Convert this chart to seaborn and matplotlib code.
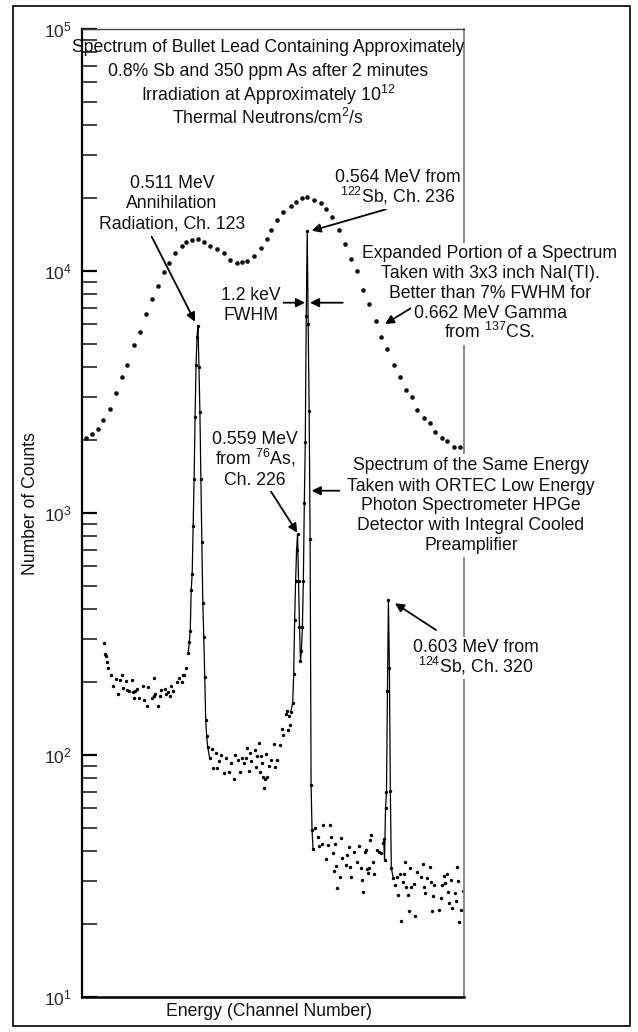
import numpy as np
import pandas as pd
import matplotlib
matplotlib.use("Agg")
import matplotlib.pyplot as plt
import seaborn as sns
from matplotlib.patches import Rectangle
from matplotlib.ticker import LogLocator, NullFormatter, LogFormatterSciNotation

# ---------------- data ----------------
# NaI(Tl) spectrum (large dots)
nai_channel = [7, 13, 20, 25, 32, 38, 44, 50, 57, 63, 69, 75, 82, 88, 93, 99, 106, 111, 117, 123,
               129, 135, 143, 150, 156, 163, 169, 174, 181, 188, 194, 199, 205, 211, 219, 224, 231,
               236, 243, 250, 255, 262, 269, 275, 281, 287, 294, 300, 307, 312, 319, 326, 332, 338,
               344, 350, 357, 363, 368, 375, 381, 388, 394]
nai_counts = [2042, 2120, 2224, 2423, 2690, 3133, 3648, 4090, 4944, 5597, 6640, 7660, 8670, 9910,
              10790, 11870, 12690, 13180, 13430, 13550, 13180, 12690, 12330, 11870, 11100, 10790,
              10890, 10990, 11530, 12450, 13550, 14770, 16250, 17530, 18560, 19280, 20030, 20230,
              19650, 19100, 18040, 16710, 14770, 12940, 11210, 10000, 8340, 7310, 6210, 5335, 4760,
              4090, 3648, 3223, 3014, 2666, 2470, 2355, 2162, 2042, 1986, 1874, 1874]

# HPGe spectrum (small dots), background region 1
hp1_channel = [26, 27, 28, 29, 30, 33, 35, 38, 40, 42, 44, 45, 49, 50, 52, 55, 56, 57, 58, 60,
               62, 66, 67, 70, 71, 75, 77, 78, 79, 82, 84, 85, 89, 90, 92, 94, 95, 97, 101, 103,
               106, 107, 109, 111, 113, 114, 115]
hp1_counts = [290, 261, 255, 241, 228, 214, 193, 205, 179, 204, 214, 189, 201, 185, 184, 204, 181,
              171, 183, 187, 171, 193, 168, 159, 190, 172, 175, 207, 178, 159, 175, 185, 186, 179,
              181, 175, 193, 183, 199, 207, 199, 213, 214, 229, 264, 292, 325]
# 0.511 MeV peak
pk1_channel = [116, 117, 118, 119, 120, 121, 122, 123, 124, 125, 126, 127, 128, 129, 130, 131, 132, 133]
pk1_counts = [481, 560, 884, 1381, 2493, 4090, 5300, 5930, 4000, 2597, 1381, 754, 425, 305, 209, 139, 119, 108]
# background region 2
hp2_channel = [135, 138, 139, 142, 143, 145, 147, 150, 152, 155, 157, 160, 161, 164, 166, 169, 171,
               173, 174, 176, 177, 178, 182, 183, 184, 186, 187, 188, 189, 190, 191, 192, 193, 194,
               196, 199, 202, 203, 205, 208, 210, 211, 214, 215, 216, 217, 218, 219, 221]
hp2_counts = [97, 106, 88, 102, 88, 94, 100, 84, 97, 85, 92, 79, 100, 95, 85, 97, 92, 97, 107, 86,
              102, 94, 105, 89, 99, 112, 85, 99, 92, 81, 73, 79, 101, 81, 90, 95, 111, 89, 95, 110,
              128, 121, 147, 151, 126, 144, 133, 150, 164]
# 0.559 MeV (76As) and 0.564 MeV (122Sb) peaks
pk2_channel = [222, 223, 224, 225, 226, 227, 228, 229, 230, 231, 232, 233, 234, 235, 236, 237, 238,
               239, 240, 241]
pk2_counts = [215, 360, 524, 700, 817, 524, 336, 244, 269, 336, 524, 1100, 1965, 6500, 14600, 6000,
              2640, 778, 75, 49]
# background region 3
hp3_channel = [242, 244, 247, 248, 251, 252, 255, 258, 260, 261, 263, 264, 265, 266, 267, 270, 271,
               272, 276, 277, 279, 280, 281, 284, 287, 290, 292, 293, 294, 296, 297, 298, 299, 300,
               301, 302, 304, 305, 308, 310, 312, 314, 315, 316]
hp3_counts = [40.8, 50, 45.9, 41.8, 42.8, 51.4, 37.1, 42.5, 51.4, 45.5, 39.2, 33, 42.8, 34.8, 28.1,
              31.1, 45.3, 37.6, 35, 38.5, 41.7, 34.2, 31.1, 39.7, 36.1, 41.8, 34, 30.3, 27.2, 39.5,
              40.4, 33.7, 32.3, 34, 44.4, 46.7, 35.9, 32.1, 40.4, 39.5, 39.1, 43, 44.8, 36.7]
# 0.603 MeV (124Sb) peak
pk3_channel = [317, 318, 319, 320, 321, 322, 323]
pk3_counts = [60, 70, 184, 436, 228, 71, 34]
# background region 4
hp4_channel = [325, 327, 329, 330, 332, 333, 335, 336, 337, 338, 340, 341, 342, 343, 346, 348, 350,
               354, 356, 357, 358, 360, 363, 364, 365, 366, 367, 372, 374, 375, 377, 379, 381, 382,
               383, 385, 386, 389, 390, 391, 392, 393, 395, 397]
hp4_counts = [31, 28.9, 31.3, 26.3, 32.1, 20.6, 29.9, 32.1, 35.9, 28.3, 26.3, 22.5, 34, 28.3, 29.2,
              21.6, 32.9, 31.3, 35.3, 28.5, 26.8, 30.9, 34.2, 29.9, 22.5, 26.1, 28.9, 22.9, 25.5, 29,
              31.6, 29.6, 32.1, 27.2, 24.5, 30.3, 23.2, 26.7, 24.8, 34.4, 30, 20.3, 22.8, 27.4]

y_ticks = [1e1, 1e2, 1e3, 1e4, 1e5]

# ---------------- style ----------------
sns.set_style("white")
plt.rcParams['font.family'] = ['Liberation Sans', 'DejaVu Sans']
plt.rcParams['mathtext.fontset'] = 'custom'
plt.rcParams['mathtext.rm'] = 'Liberation Sans'
plt.rcParams['mathtext.it'] = 'Liberation Sans:italic'
plt.rcParams['mathtext.bf'] = 'Liberation Sans:bold'
plt.rcParams['mathtext.default'] = 'regular'

W, H = 638, 1032
FS = 12.7


def fx(x):
    return x / W


def fy(y):
    return 1 - y / H


fig = plt.figure(figsize=(W / 100, H / 100), dpi=100)
L, R, T, B = 81.5, 464.3, 28.7, 996.7
ax = fig.add_axes([fx(L), fy(B), (R - L) / W, (B - T) / H])
ax.set_yscale('log')
ax.set_ylim(10, 1e5)
ax.set_xlim(2.5, 398.5)

# HPGe data frame
seg_frames = []
for name, ch, ct in [("bg1", hp1_channel, hp1_counts), ("pk1", pk1_channel, pk1_counts),
                     ("bg2", hp2_channel, hp2_counts), ("pk2", pk2_channel, pk2_counts),
                     ("bg3", hp3_channel, hp3_counts), ("pk3", pk3_channel, pk3_counts),
                     ("bg4", hp4_channel, hp4_counts)]:
    seg_frames.append(pd.DataFrame({"channel": ch, "counts": ct, "segment": name}))
hpge = pd.concat(seg_frames, ignore_index=True)

# connected peak traces (include neighbouring background points)
peak_windows = {"pk1": (113, 135), "pk2": (219, 242), "pk3": (315, 325)}
lines = []
for name, (lo, hi) in peak_windows.items():
    sub = hpge[(hpge.channel >= lo) & (hpge.channel <= hi)].sort_values("channel").copy()
    sub["segment"] = name
    lines.append(sub)
lines = pd.concat(lines, ignore_index=True)

nai = pd.DataFrame({"channel": nai_channel, "counts": nai_counts})

sns.lineplot(data=lines, x="channel", y="counts", units="segment", estimator=None, sort=False,
             color="black", linewidth=0.9, ax=ax, legend=False)
sns.scatterplot(data=hpge, x="channel", y="counts", color="black", s=6, linewidth=0, ax=ax,
                legend=False)
sns.scatterplot(data=nai, x="channel", y="counts", color="#111111", s=11, linewidth=0, ax=ax,
                legend=False)

ax.set_xlabel("")
ax.set_ylabel("")

# axes decoration
ax.yaxis.set_major_locator(LogLocator(base=10, numticks=10))
ax.yaxis.set_minor_locator(LogLocator(base=10, subs=np.arange(2, 10), numticks=20))
ax.yaxis.set_minor_formatter(NullFormatter())
ax.yaxis.set_major_formatter(LogFormatterSciNotation())
ax.set_yticks(y_ticks)
ax.tick_params(axis='y', which='major', direction='in', length=11, width=1.6, color='black',
               labelsize=12.5, pad=7, left=True)
ax.tick_params(axis='y', which='minor', direction='in', length=11, width=1.2, color='#222222',
               left=True)
ax.tick_params(axis='x', which='both', bottom=False, labelbottom=False)
ax.spines['left'].set_linewidth(1.6)
ax.spines['left'].set_color('black')
ax.spines['bottom'].set_linewidth(1.8)
ax.spines['bottom'].set_color('black')
ax.spines['top'].set_linewidth(1.0)
ax.spines['top'].set_color('#444444')
ax.spines['right'].set_linewidth(1.4)
ax.spines['right'].set_color('#8a8a8a')
for s in ax.spines.values():
    s.set_visible(True)

# ---------------- annotations ----------------
WHITE = dict(boxstyle='square,pad=0.12', fc='white', ec='none')


def block(lines_txt, cx, ys, bbox=True):
    for t, y in zip(lines_txt, ys):
        fig.text(fx(cx), fy(y + 5.5), t, ha='center', va='baseline', fontsize=FS,
                 color='#111111', bbox=WHITE if bbox else None, zorder=5)


block(["Spectrum of Bullet Lead Containing Approximately",
       "0.8% Sb and 350 ppm As after 2 minutes",
       "Irradiation at Approximately 10$^{12}$",
       "Thermal Neutrons/cm$^{2}$/s"], 268, [47, 71, 95, 119], bbox=False)
block(["0.511 MeV", "Annihilation", "Radiation, Ch. 123"], 172, [183, 203, 223])
block(["0.564 MeV from", "$^{122}$Sb, Ch. 236"], 398, [177, 197])
block(["Expanded Portion of a Spectrum", "Taken with 3x3 inch NaI(TI).",
       "Better than 7% FWHM for", "0.662 MeV Gamma", "from $^{137}$CS."],
      490, [253, 273, 293, 313, 333])
block(["1.2 keV", "FWHM"], 251, [294, 314])
block(["0.559 MeV", "from $^{76}$As,", "Ch. 226"], 255, [439, 459, 479])
block(["Spectrum of the Same Energy", "Taken with ORTEC Low Energy",
       "Photon Spectrometer HPGe", "Detector with Integral Cooled", "Preamplifier"],
      471, [464, 485, 505, 525, 545])
block(["0.603 MeV from", "$^{124}$Sb, Ch. 320"], 476, [647, 667])

fig.text(fx(31), fy(504), "Number of Counts", rotation=90, ha='center', va='center',
         fontsize=FS, color='#111111')
fig.text(fx(269), fy(1012), "Energy (Channel Number)", ha='center', va='center',
         fontsize=FS, color='#111111')

arrows = [((151.7, 236.7), (195, 321.7)),
          ((386, 209.3), (311.7, 230.7)),
          ((413.3, 306.7), (385, 324)),
          ((281.7, 302.7), (305, 302.7)),
          ((342.7, 302.7), (310, 302.7)),
          ((268.3, 487.3), (297.3, 532.7)),
          ((339.3, 490.7), (311.7, 490.7)),
          ((436, 630), (395, 603.3))]
for (x0, y0), (x1, y1) in arrows:
    ax.annotate("", xy=(fx(x1), fy(y1)), xycoords='figure fraction',
                xytext=(fx(x0), fy(y0)), textcoords='figure fraction',
                arrowprops=dict(arrowstyle='-|>', color='black', lw=1.3, mutation_scale=13,
                                shrinkA=0, shrinkB=0), zorder=6)

# outer frame
fig.patches.append(Rectangle((fx(13), fy(1026)), (630 - 13) / W, (1026 - 6) / H,
                             transform=fig.transFigure, fill=False, ec='black', lw=1.2))

fig.savefig("out.png", dpi=100, facecolor='white')
